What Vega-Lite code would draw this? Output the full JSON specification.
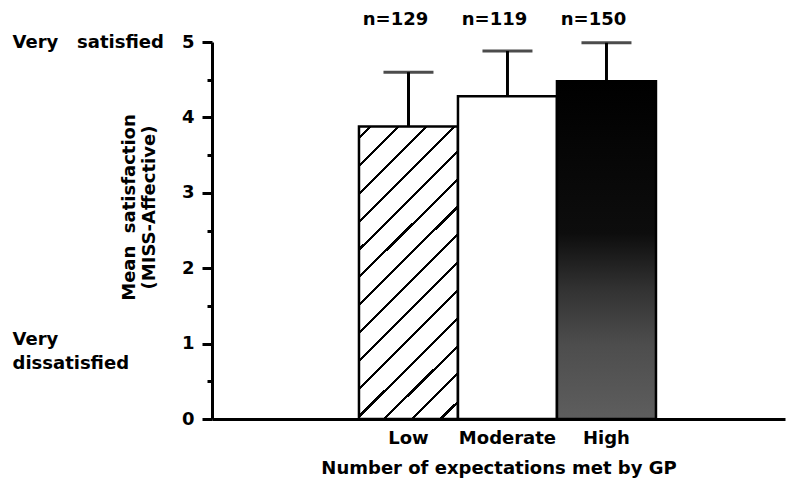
{
  "$schema": "https://vega.github.io/schema/vega-lite/v6.json",
  "autosize": "none",
  "width": 573,
  "height": 377,
  "padding": {"left": 212, "top": 42, "right": 12, "bottom": 69},
  "background": "white",
  "config": {
    "view": {"stroke": null},
    "font": "DejaVu Sans",
    "axis": {"labelFont": "DejaVu Sans", "titleFont": "DejaVu Sans", "labelColor": "black", "titleColor": "black", "domainColor": "black", "tickColor": "black", "labelFontWeight": "bold", "titleFontWeight": "bold", "labelFontSize": 18, "titleFontSize": 18, "grid": false}
  },
  "data": {"values": [
    {"cat": "Low", "mean": 3.88, "upper": 4.6, "n": "n=129"},
    {"cat": "Moderate", "mean": 4.28, "upper": 4.88, "n": "n=119"},
    {"cat": "High", "mean": 4.48, "upper": 4.99, "n": "n=150"}
  ]},
  "encoding": {
    "x": {
      "field": "cat", "type": "nominal",
      "scale": {"domain": [" ", "Low", "Moderate", "High", "  "], "paddingInner": 0, "paddingOuter": 0.394, "align": 0.615},
      "axis": {"labelAngle": 0, "ticks": false, "domainWidth": 3, "labelPadding": 10, "titlePadding": 12},
      "title": "Number of expectations met by GP"
    },
    "y": {
      "field": "mean", "type": "quantitative",
      "scale": {"domain": [0, 5], "nice": false},
      "title": ["Mean\u00a0\u00a0satisfaction", "(MISS-Affective)"],
      "axis": {
        "values": [0, 0.5, 1, 1.5, 2, 2.5, 3, 3.5, 4, 4.5, 5, 4.999, 1.05, 0.73],
        "labelExpr": "datum.value == 4.999 ? 'Very\u00a0\u00a0\u00a0satisfied' : datum.value == 1.05 ? 'Very' : datum.value == 0.73 ? 'dissatisfied' : (datum.value % 1 == 0 ? format(datum.value, 'd') : '')",
        "labelOverlap": false,
        "labelBound": false,
        "labelAlign": {"condition": {"test": "datum.value == 4.999 || datum.value == 1.05 || datum.value == 0.73", "value": "left"}, "value": "right"},
        "labelPadding": {"condition": {"test": "datum.value == 4.999 || datum.value == 1.05 || datum.value == 0.73", "value": 195}, "value": 8},
        "tickSize": {"condition": {"test": "datum.value % 1 != 0", "value": 5}, "value": 10},
        "tickOpacity": {"condition": {"test": "datum.value == 4.999 || datum.value == 1.05 || datum.value == 0.73", "value": 0}, "value": 1},
        "tickWidth": 3,
        "tickColor": "black",
        "domainWidth": 3,
        "titleX": -74,
        "titleY": 165,
        "titleBaseline": "bottom"
      }
    }
  },
  "layer": [
    {
      "transform": [{"filter": "datum.cat === 'Low'"}],
      "mark": {"type": "bar", "stroke": "black", "strokeWidth": 2.5, "fill": {
        "gradient": "linear", "x1": 0, "y1": 0, "x2": 0.404, "y2": 1.2,
        "stops": [
          {"offset": 0, "color": "white"},
          {"offset": 0.026, "color": "white"}, {"offset": 0.026, "color": "black"}, {"offset": 0.034, "color": "black"}, {"offset": 0.034, "color": "white"},
          {"offset": 0.097, "color": "white"}, {"offset": 0.097, "color": "black"}, {"offset": 0.105, "color": "black"}, {"offset": 0.105, "color": "white"},
          {"offset": 0.168, "color": "white"}, {"offset": 0.168, "color": "black"}, {"offset": 0.176, "color": "black"}, {"offset": 0.176, "color": "white"},
          {"offset": 0.240, "color": "white"}, {"offset": 0.240, "color": "black"}, {"offset": 0.248, "color": "black"}, {"offset": 0.248, "color": "white"},
          {"offset": 0.311, "color": "white"}, {"offset": 0.311, "color": "black"}, {"offset": 0.319, "color": "black"}, {"offset": 0.319, "color": "white"},
          {"offset": 0.382, "color": "white"}, {"offset": 0.382, "color": "black"}, {"offset": 0.390, "color": "black"}, {"offset": 0.390, "color": "white"},
          {"offset": 0.453, "color": "white"}, {"offset": 0.453, "color": "black"}, {"offset": 0.461, "color": "black"}, {"offset": 0.461, "color": "white"},
          {"offset": 0.524, "color": "white"}, {"offset": 0.524, "color": "black"}, {"offset": 0.532, "color": "black"}, {"offset": 0.532, "color": "white"},
          {"offset": 0.596, "color": "white"}, {"offset": 0.596, "color": "black"}, {"offset": 0.604, "color": "black"}, {"offset": 0.604, "color": "white"},
          {"offset": 0.667, "color": "white"}, {"offset": 0.667, "color": "black"}, {"offset": 0.675, "color": "black"}, {"offset": 0.675, "color": "white"},
          {"offset": 0.738, "color": "white"}, {"offset": 0.738, "color": "black"}, {"offset": 0.746, "color": "black"}, {"offset": 0.746, "color": "white"},
          {"offset": 0.809, "color": "white"}, {"offset": 0.809, "color": "black"}, {"offset": 0.817, "color": "black"}, {"offset": 0.817, "color": "white"},
          {"offset": 0.880, "color": "white"}, {"offset": 0.880, "color": "black"}, {"offset": 0.888, "color": "black"}, {"offset": 0.888, "color": "white"},
          {"offset": 0.952, "color": "white"}, {"offset": 0.952, "color": "black"}, {"offset": 0.960, "color": "black"}, {"offset": 0.960, "color": "white"},
          {"offset": 1, "color": "white"}
        ]}}
    },
    {
      "transform": [{"filter": "datum.cat === 'Moderate'"}],
      "mark": {"type": "bar", "stroke": "black", "strokeWidth": 2.5, "fill": "white"}
    },
    {
      "transform": [{"filter": "datum.cat === 'High'"}],
      "mark": {"type": "bar", "stroke": "black", "strokeWidth": 2.5, "fill": {
        "gradient": "linear", "x1": 0, "y1": 0, "x2": 0, "y2": 1,
        "stops": [
          {"offset": 0, "color": "#000000"},
          {"offset": 0.45, "color": "#0d0d0d"},
          {"offset": 0.62, "color": "#333333"},
          {"offset": 0.78, "color": "#4d4d4d"},
          {"offset": 1, "color": "#5e5e5e"}
        ]}}
    },
    {
      "mark": {"type": "rule", "color": "black", "strokeWidth": 3},
      "encoding": {"y2": {"field": "upper"}}
    },
    {
      "mark": {"type": "tick", "color": "black", "size": 50, "thickness": 3},
      "encoding": {"y": {"field": "upper", "type": "quantitative"}}
    },
    {
      "mark": {"type": "text", "font": "DejaVu Sans", "fontWeight": "bold", "fontSize": 18, "color": "black", "dy": -22, "dx": -13, "baseline": "middle"},
      "encoding": {"y": {"datum": 5, "type": "quantitative"}, "text": {"field": "n"}}
    }
  ]
}
